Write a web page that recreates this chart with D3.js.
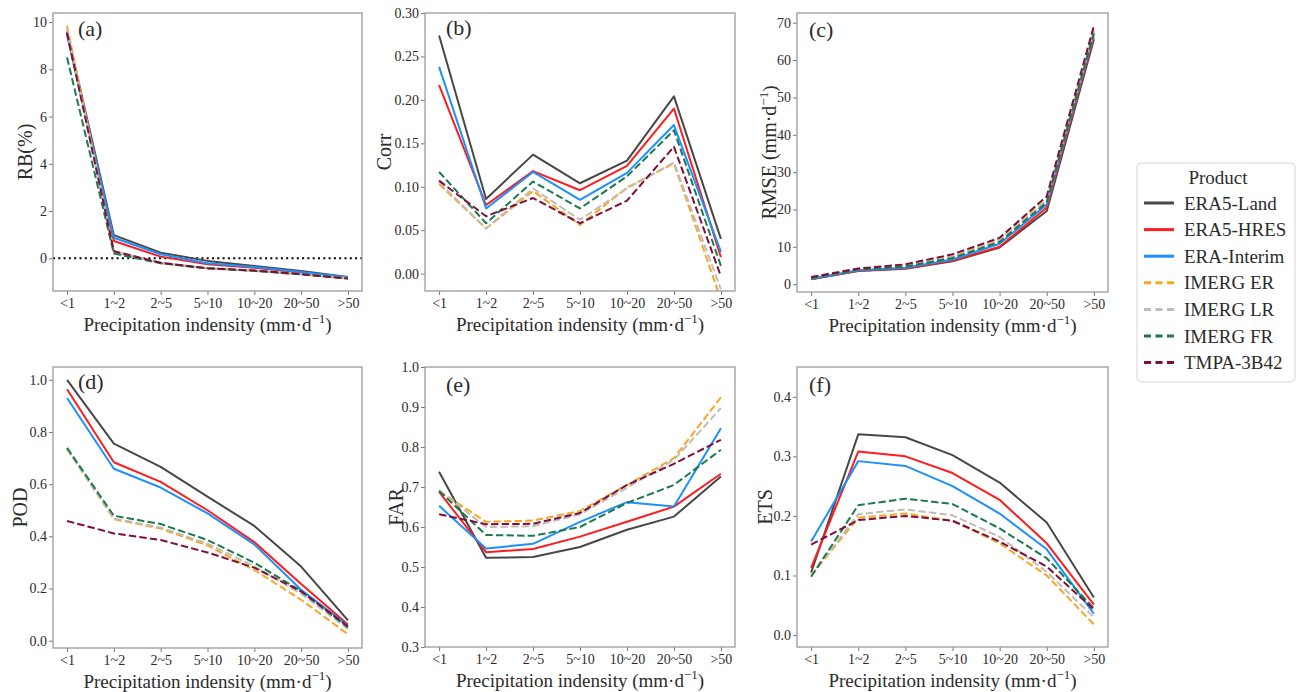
<!DOCTYPE html>
<html>
<head>
<meta charset="utf-8">
<script src="https://cdn.jsdelivr.net/npm/d3@7"></script>
<style>
  html, body { margin: 0; padding: 0; background: #fff; }
  svg { display: block; }
  svg text { font-family: "Liberation Serif", "Times New Roman", serif; }
</style>
</head>
<body>
<svg id="chart" width="1306" height="692"></svg>
<script>
// Precipitation intensity classes (mm/d)
const categories = ["<1", "1~2", "2~5", "5~10", "10~20", "20~50", ">50"];

// Products, in plotting / legend order
const products = ["ERA5-Land", "ERA5-HRES", "ERA-Interim", "IMERG ER", "IMERG LR", "IMERG FR", "TMPA-3B42"];

// Relative bias (%) per product, per class
const rbValues = [
  [9.60, 0.98, 0.24, -0.11, -0.33, -0.54, -0.79],
  [9.50, 0.73, 0.07, -0.25, -0.40, -0.60, -0.82],
  [9.45, 0.87, 0.17, -0.21, -0.37, -0.58, -0.80],
  [9.85, 0.28, -0.20, -0.42, -0.53, -0.68, -0.85],
  [9.70, 0.28, -0.20, -0.42, -0.53, -0.67, -0.84],
  [8.50, 0.20, -0.21, -0.43, -0.53, -0.68, -0.85],
  [9.55, 0.30, -0.19, -0.42, -0.52, -0.67, -0.86]
];

// Correlation coefficient
const corrValues = [
  [0.274, 0.086, 0.137, 0.104, 0.130, 0.204, 0.040],
  [0.217, 0.079, 0.118, 0.096, 0.124, 0.190, 0.019],
  [0.238, 0.075, 0.117, 0.085, 0.116, 0.171, 0.025],
  [0.103, 0.052, 0.095, 0.056, 0.099, 0.127, -0.030],
  [0.105, 0.052, 0.098, 0.062, 0.098, 0.128, -0.018],
  [0.117, 0.058, 0.106, 0.075, 0.112, 0.165, 0.009],
  [0.107, 0.066, 0.087, 0.058, 0.084, 0.146, -0.003]
];

// Root mean square error (mm/d)
const rmseValues = [
  [1.3, 3.5, 4.1, 6.1, 9.8, 19.6, 65.5],
  [1.4, 3.6, 4.2, 6.3, 10.0, 20.5, 66.2],
  [1.4, 3.7, 4.4, 6.6, 10.8, 21.3, 67.0],
  [1.7, 4.0, 5.0, 7.4, 11.9, 22.6, 68.0],
  [1.7, 4.0, 4.9, 7.3, 11.7, 22.4, 67.6],
  [1.6, 3.9, 4.7, 7.0, 11.3, 21.9, 67.2],
  [1.9, 4.2, 5.3, 8.0, 12.4, 23.5, 69.1]
];

// Probability of detection
const podValues = [
  [1.000, 0.755, 0.666, 0.552, 0.440, 0.284, 0.078],
  [0.964, 0.684, 0.609, 0.500, 0.378, 0.217, 0.062],
  [0.930, 0.659, 0.587, 0.488, 0.369, 0.195, 0.058],
  [0.735, 0.466, 0.430, 0.365, 0.271, 0.157, 0.025],
  [0.735, 0.468, 0.434, 0.372, 0.285, 0.180, 0.045],
  [0.739, 0.479, 0.447, 0.386, 0.299, 0.190, 0.051],
  [0.459, 0.411, 0.386, 0.338, 0.280, 0.189, 0.055]
];

// False alarm ratio
const farValues = [
  [0.738, 0.523, 0.525, 0.550, 0.593, 0.626, 0.726],
  [0.688, 0.537, 0.545, 0.576, 0.613, 0.651, 0.733],
  [0.653, 0.546, 0.558, 0.613, 0.662, 0.651, 0.847],
  [0.690, 0.613, 0.616, 0.640, 0.705, 0.772, 0.924],
  [0.692, 0.600, 0.602, 0.632, 0.698, 0.768, 0.897],
  [0.690, 0.580, 0.578, 0.600, 0.660, 0.705, 0.793],
  [0.632, 0.607, 0.608, 0.635, 0.705, 0.758, 0.818]
];

// Equitable threat score
const etsValues = [
  [0.105, 0.337, 0.332, 0.302, 0.256, 0.189, 0.063],
  [0.113, 0.308, 0.300, 0.272, 0.227, 0.154, 0.051],
  [0.157, 0.292, 0.284, 0.250, 0.204, 0.144, 0.036],
  [0.100, 0.197, 0.204, 0.192, 0.154, 0.100, 0.018],
  [0.100, 0.203, 0.211, 0.201, 0.165, 0.106, 0.030],
  [0.098, 0.218, 0.229, 0.220, 0.179, 0.129, 0.045],
  [0.152, 0.193, 0.200, 0.192, 0.157, 0.115, 0.043]
];

// Y-axis tick labels per panel
const rbTicks   = [0, 2, 4, 6, 8, 10];
const corrTicks = [0, 0.05, 0.10, 0.15, 0.20, 0.25, 0.30];
const rmseTicks = [0, 10, 20, 30, 40, 50, 60, 70];
const podTicks  = [0, 0.2, 0.4, 0.6, 0.8, 1.0];
const farTicks  = [0.3, 0.4, 0.5, 0.6, 0.7, 0.8, 0.9, 1.0];
const etsTicks  = [0, 0.1, 0.2, 0.3, 0.4];

// ---- styling ----
const colors = ["#474747", "#ff1c1c", "#1e8fff", "#f7a623", "#c4bcb4", "#1b7a4c", "#7d0f3c"];
const dashed = [false, false, false, true, true, true, true];
const TEXT = "#2b2b2b";
const SPINE = "#9a9a9a";

const panels = [
  { tag: "(a)", data: rbValues,   ticks: rbTicks,   fmt: d3.format("d"),   domain: [-1.385, 10.385],
    x0: 53,  x1: 362,  y0: 13,  y1: 291, ylab: "RB(%)",  unit: false, ylabX: 32,  tagX: 78,  tagY: 36, zeroLine: true },
  { tag: "(b)", data: corrValues, ticks: corrTicks, fmt: d3.format(".2f"), domain: [-0.02, 0.30],
    x0: 425, x1: 735,  y0: 13,  y1: 291, ylab: "Corr",   unit: false, ylabX: 391, tagX: 446, tagY: 35 },
  { tag: "(c)", data: rmseValues, ticks: rmseTicks, fmt: d3.format("d"),   domain: [-2.1, 72.6],
    x0: 797, x1: 1108, y0: 13,  y1: 292, ylab: "RMSE (mm·d", unit: true, ylabX: 776, tagX: 809, tagY: 37 },
  { tag: "(d)", data: podValues,  ticks: podTicks,  fmt: d3.format(".1f"), domain: [-0.028, 1.049],
    x0: 53,  x1: 362,  y0: 367, y1: 648, ylab: "POD",    unit: false, ylabX: 27,  tagX: 78,  tagY: 389 },
  { tag: "(e)", data: farValues,  ticks: farTicks,  fmt: d3.format(".1f"), domain: [0.3, 1.0],
    x0: 425, x1: 735,  y0: 367, y1: 647, ylab: "FAR",    unit: false, ylabX: 403, tagX: 446, tagY: 392 },
  { tag: "(f)", data: etsValues,  ticks: etsTicks,  fmt: d3.format(".1f"), domain: [-0.02, 0.45],
    x0: 797, x1: 1108, y0: 367, y1: 647, ylab: "ETS",    unit: false, ylabX: 772, tagX: 809, tagY: 392 }
];

const svg = d3.select("#chart");
const defs = svg.append("defs");

// Writes "... (mm·d⁻¹)" style unit text into a text element
function writeUnit(textSel, base) {
  textSel.append("tspan").text(base);
  textSel.append("tspan").attr("font-size", 13).attr("dy", -8).text("−1");
  textSel.append("tspan").attr("font-size", 19).attr("dy", 8).text(")");
}

panels.forEach((p, i) => {
  const g = svg.append("g");
  const idx = d3.range(categories.length);
  const x = d3.scaleLinear().domain([-0.3, categories.length - 1 + 0.3]).range([p.x0, p.x1]);
  const y = d3.scaleLinear().domain(p.domain).range([p.y1, p.y0]);

  // x axis
  const xAxis = d3.axisBottom(x).tickValues(idx).tickFormat(j => categories[j]).tickSize(4).tickPadding(3);
  const gx = g.append("g").attr("transform", `translate(0,${p.y1})`).call(xAxis);
  // y axis
  const yAxis = d3.axisLeft(y).tickValues(p.ticks).tickFormat(p.fmt).tickSize(4).tickPadding(2);
  const gy = g.append("g").attr("transform", `translate(${p.x0},0)`).call(yAxis);

  [gx, gy].forEach(ax => {
    ax.attr("font-family", null).attr("font-size", null);
    ax.select(".domain").remove();
    ax.selectAll(".tick line").attr("stroke", "#555").attr("stroke-width", 0.8);
    ax.selectAll(".tick text").attr("fill", TEXT)
      .style("font-size", "14px")
      .style("font-family", "'Liberation Serif', 'Times New Roman', serif");
  });

  // clip region for the lines
  const clipId = "clip" + i;
  defs.append("clipPath").attr("id", clipId)
    .append("rect").attr("x", p.x0).attr("y", p.y0).attr("width", p.x1 - p.x0).attr("height", p.y1 - p.y0);

  const plot = g.append("g").attr("clip-path", `url(#${clipId})`);

  if (p.zeroLine) {
    plot.append("line")
      .attr("x1", p.x0).attr("x2", p.x1).attr("y1", y(0)).attr("y2", y(0))
      .attr("stroke", "#000").attr("stroke-width", 2).attr("stroke-dasharray", "2,3.3");
  }

  const line = d3.line().x((d, j) => x(j)).y(d => y(d));
  p.data.forEach((series, k) => {
    plot.append("path")
      .datum(series)
      .attr("d", line)
      .attr("fill", "none")
      .attr("stroke", colors[k])
      .attr("stroke-width", 2)
      .attr("stroke-linejoin", "round")
      .attr("stroke-dasharray", dashed[k] ? "7.4,3.2" : null);
  });

  // frame
  g.append("rect")
    .attr("x", p.x0).attr("y", p.y0).attr("width", p.x1 - p.x0).attr("height", p.y1 - p.y0)
    .attr("fill", "none").attr("stroke", SPINE).attr("stroke-width", 1.3);

  // panel tag
  g.append("text").attr("x", p.tagX).attr("y", p.tagY)
    .attr("font-size", 22).attr("fill", TEXT).text(p.tag);

  // x label
  const xl = g.append("text")
    .attr("x", (p.x0 + p.x1) / 2).attr("y", p.y1 + 40)
    .attr("text-anchor", "middle").attr("font-size", 19).attr("fill", TEXT);
  writeUnit(xl, "Precipitation indensity (mm·d");

  // y label
  const yl = g.append("text")
    .attr("transform", `translate(${p.ylabX},${(p.y0 + p.y1) / 2}) rotate(-90)`)
    .attr("text-anchor", "middle").attr("font-size", 20).attr("fill", TEXT);
  if (p.unit) writeUnit(yl, p.ylab); else yl.text(p.ylab);
});

// legend
const lg = svg.append("g");
const lx = 1137, ly = 163, lw = 158, lh = 219;
lg.append("rect").attr("x", lx).attr("y", ly).attr("width", lw).attr("height", lh)
  .attr("rx", 4).attr("fill", "#fff").attr("stroke", "#d6d6d6").attr("stroke-width", 1);
lg.append("text").attr("x", lx + lw / 2 + 2).attr("y", ly + 21)
  .attr("text-anchor", "middle").attr("font-size", 19).attr("fill", TEXT).text("Product");
products.forEach((name, k) => {
  const cy = ly + 40 + k * 26.6;
  lg.append("line").attr("x1", lx + 7).attr("x2", lx + 37).attr("y1", cy).attr("y2", cy)
    .attr("stroke", colors[k]).attr("stroke-width", 3)
    .attr("stroke-dasharray", dashed[k] ? "7,4.5" : null);
  lg.append("text").attr("x", lx + 47).attr("y", cy + 6.5)
    .attr("font-size", 19).attr("fill", TEXT).text(name);
});
</script>
</body>
</html>
